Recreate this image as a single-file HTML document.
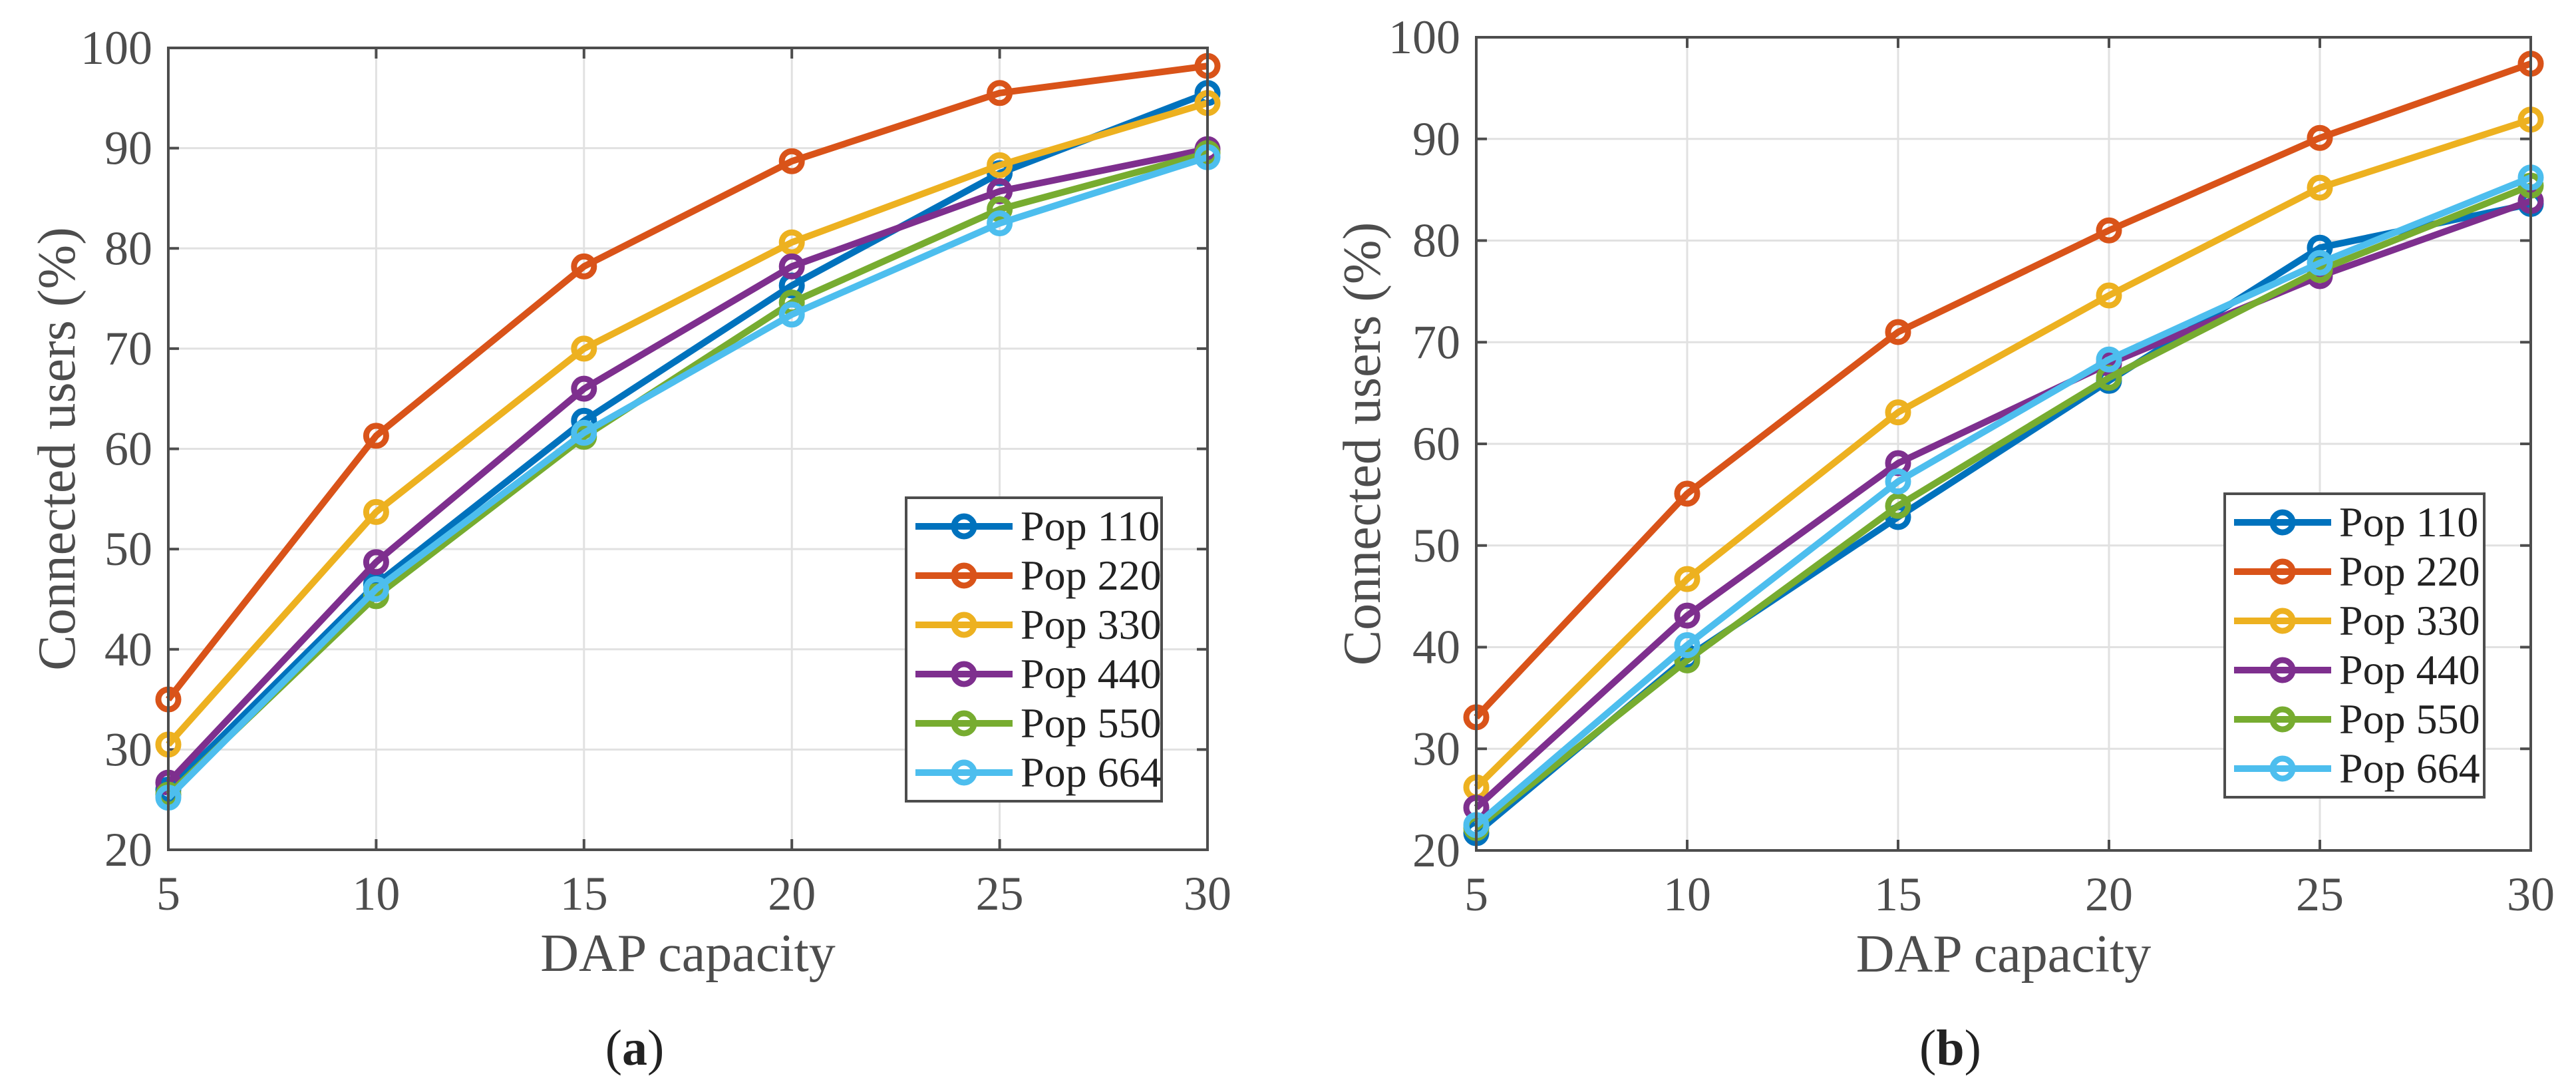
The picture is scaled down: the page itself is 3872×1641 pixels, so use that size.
<!DOCTYPE html>
<html><head><meta charset="utf-8">
<style>
html,body{margin:0;padding:0;background:#fff;}
svg{display:block;}
svg text{font-family:"Liberation Serif","Times New Roman",serif !important;}
</style></head>
<body>
<svg id="fig" width="3872" height="1641" viewBox="0 0 3872 1641" xmlns="http://www.w3.org/2000/svg" font-family="Liberation Serif, serif"></svg>
<script>
const categories = [5, 10, 15, 20, 25, 30];
const xTicks = ["5", "10", "15", "20", "25", "30"];
const yTicks = [20, 30, 40, 50, 60, 70, 80, 90, 100];
const seriesNames = ["Pop 110", "Pop 220", "Pop 330", "Pop 440", "Pop 550", "Pop 664"];
const colors = ["#0072BD", "#D95319", "#EDB120", "#7E2F8E", "#77AC30", "#4DBEEE"];
// panel (a)
const a110 = [26.0, 46.5, 62.8, 76.3, 87.5, 95.5];
const a220 = [35.0, 61.3, 78.2, 88.7, 95.5, 98.2];
const a330 = [30.5, 53.7, 70.0, 80.6, 88.3, 94.5];
const a440 = [26.7, 48.7, 66.0, 78.2, 85.7, 89.9];
const a550 = [25.5, 45.3, 61.2, 74.6, 83.9, 89.5];
const a664 = [25.2, 46.0, 61.6, 73.4, 82.5, 89.1];
// panel (b)
const b110 = [21.7, 39.0, 52.8, 66.2, 79.3, 83.6];
const b220 = [33.1, 55.1, 71.0, 81.0, 90.1, 97.4];
const b330 = [26.2, 46.7, 63.1, 74.6, 85.2, 91.9];
const b440 = [24.2, 43.1, 58.1, 67.9, 76.5, 83.9];
const b550 = [22.2, 38.7, 53.9, 66.5, 77.1, 85.4];
const b664 = [22.5, 40.2, 56.3, 68.3, 77.8, 86.2];

const NS = "http://www.w3.org/2000/svg";
const svg = document.getElementById("fig");
const FF = '"Liberation Serif", serif';
function mk(tag, attrs, parent) {
  const e = document.createElementNS(NS, tag);
  for (const k in attrs) e.setAttribute(k, attrs[k]);
  if (tag === "text") e.setAttribute("font-family", FF);
  (parent || svg).appendChild(e);
  return e;
}

function panel(id, box, series, legend, caption) {
  const g = mk("g", {});
  
  
  const xMin = 5, xMax = 30, yMin = 20, yMax = 100;
  const X = v => box.l + (v - xMin) / (xMax - xMin) * (box.r - box.l);
  const Y = v => box.b - (v - yMin) / (yMax - yMin) * (box.b - box.t);
  const axisCol = "#4d4d4d";
  categories.forEach((c, i) => {
    const gl = mk("line", {x1: X(c), x2: X(c), y1: box.t, y2: box.b, stroke: "#e1e1e1", "stroke-width": 3}, g);
    
    
  });
  yTicks.forEach(v => {
    const gl = mk("line", {x1: box.l, x2: box.r, y1: Y(v), y2: Y(v), stroke: "#e1e1e1", "stroke-width": 3}, g);
    
    
  });
  categories.forEach((c, i) => {
    mk("line", {x1: X(c), x2: X(c), y1: box.b, y2: box.b - 16, stroke: axisCol, "stroke-width": 4}, g);
    mk("line", {x1: X(c), x2: X(c), y1: box.t, y2: box.t + 16, stroke: axisCol, "stroke-width": 4}, g);
    const t = mk("text", {x: X(c), y: box.b + 90, "text-anchor": "middle", "font-size": 72, fill: axisCol}, g);
    t.textContent = xTicks[i];
    
    
  });
  yTicks.forEach(v => {
    mk("line", {x1: box.l, x2: box.l + 16, y1: Y(v), y2: Y(v), stroke: axisCol, "stroke-width": 4}, g);
    mk("line", {x1: box.r, x2: box.r - 16, y1: Y(v), y2: Y(v), stroke: axisCol, "stroke-width": 4}, g);
    const t = mk("text", {x: box.l - 24, y: Y(v) + 24, "text-anchor": "end", "font-size": 72, fill: axisCol}, g);
    t.textContent = String(v);
    
    
  });
  series.forEach((vals, si) => {
    const sg = mk("g", {}, g);
    
    
    const pts = vals.map((v, i) => X(categories[i]) + "," + Y(v)).join(" ");
    const pl = mk("polyline", {points: pts, fill: "none", stroke: colors[si], "stroke-width": 10, "stroke-linejoin": "round"}, sg);
    
    
    vals.forEach((v, i) => {
      const c = mk("circle", {cx: X(categories[i]), cy: Y(v), r: 15, fill: "none", stroke: colors[si], "stroke-width": 9}, sg);
      
      
    });
  });
  const ab = mk("rect", {x: box.l, y: box.t, width: box.r - box.l, height: box.b - box.t, fill: "none", stroke: axisCol, "stroke-width": 4}, g);
  
  
  const lg = mk("g", {}, g);
  
  
  const lr = mk("rect", {x: legend.x, y: legend.y, width: legend.w, height: legend.h, fill: "#fff", stroke: axisCol, "stroke-width": 4}, lg);
  
  
  seriesNames.forEach((n, i) => {
    const yy = legend.y + 43 + i * 74;
    const eg = mk("g", {}, lg);
    
    
    mk("line", {x1: legend.x + 14, x2: legend.x + 160, y1: yy, y2: yy, stroke: colors[i], "stroke-width": 10}, eg);
    mk("circle", {cx: legend.x + 87, cy: yy, r: 15, fill: "none", stroke: colors[i], "stroke-width": 9}, eg);
    const t = mk("text", {x: legend.x + 172, y: yy + 21, "font-size": 64, fill: "#222"}, eg);
    t.textContent = n;
  });
  const xl = mk("text", {x: (box.l + box.r) / 2, y: box.b + 182, "text-anchor": "middle", "font-size": 80, fill: axisCol}, g);
  xl.textContent = "DAP capacity";
  
  
  const cy = (box.t + box.b) / 2;
  const yl = mk("text", {x: box.yl, y: cy, "text-anchor": "middle", "font-size": 80, fill: axisCol, transform: "rotate(-90 " + box.yl + " " + cy + ")"}, g);
  yl.textContent = "Connected users (%)";
  
  
  const cp = mk("text", {x: (box.l + box.r) / 2 - 80, y: 1600, "text-anchor": "middle", "font-size": 76, fill: "#222"}, g);
  cp.innerHTML = '(<tspan font-weight="bold">' + caption + '</tspan>)';
  
  
}

panel("a", {l: 253, r: 1815, t: 72, b: 1277, yl: 112},
  [a110, a220, a330, a440, a550, a664],
  {x: 1362, y: 748, w: 384, h: 456}, "a");
panel("b", {l: 2219, r: 3804, t: 56, b: 1278, yl: 2074},
  [b110, b220, b330, b440, b550, b664],
  {x: 3344, y: 742, w: 390, h: 456}, "b");
</script>
</body></html>
